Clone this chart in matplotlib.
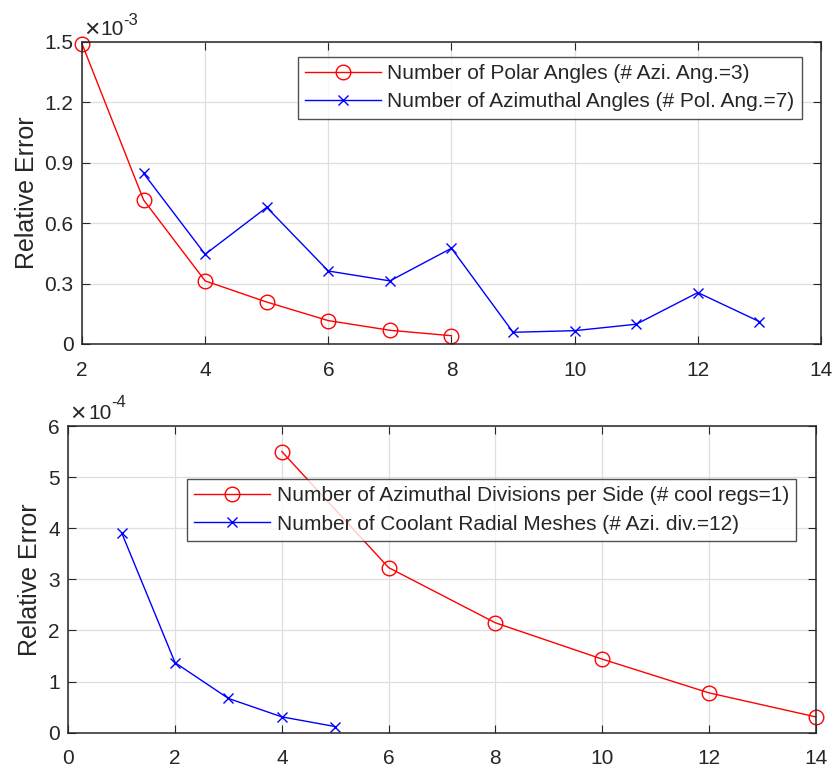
import matplotlib
matplotlib.use("Agg")
import matplotlib.pyplot as plt
from matplotlib.ticker import FuncFormatter, MultipleLocator

plt.rcParams['font.family'] = ['Liberation Sans', 'DejaVu Sans']

# Angular quadrature study
polar_n = [2, 3, 4, 5, 6, 7, 8]
polar_err = [1.49e-3, 0.715e-3, 0.313e-3, 0.208e-3, 0.116e-3, 0.068e-3, 0.041e-3]
azi_n = [3, 4, 5, 6, 7, 8, 9, 10, 11, 12, 13]
azi_err = [0.847e-3, 0.445e-3, 0.678e-3, 0.362e-3, 0.313e-3, 0.475e-3,
           0.058e-3, 0.066e-3, 0.098e-3, 0.255e-3, 0.111e-3]

# Spatial mesh study
div_n = [4, 6, 8, 10, 12, 14]
div_err = [5.50e-4, 3.23e-4, 2.15e-4, 1.44e-4, 0.78e-4, 0.31e-4]
cool_n = [1, 2, 3, 4, 5]
cool_err = [3.91e-4, 1.37e-4, 0.67e-4, 0.31e-4, 0.12e-4]

top_labels = ['Number of Polar Angles (# Azi. Ang.=3)',
              'Number of Azimuthal Angles (# Pol. Ang.=7)']
bot_labels = ['Number of Azimuthal Divisions per Side (# cool regs=1)',
              'Number of Coolant Radial Meshes (# Azi. div.=12)']

RED = '#ff0000'
BLUE = '#0000ff'
INK = '#262626'
FS = 15
W, H = 833, 769

fig = plt.figure(figsize=(W / 100, H / 100), dpi=100)
ax1 = fig.add_axes([0.0984, 0.5527, 0.8872, 0.3931])
ax2 = fig.add_axes([0.0820, 0.0472, 0.8972, 0.3988])


def exponent_label(x_times, x_ten, base_y, x_sup, sup_y, exp):
    """Draw the '×10^-n' multiplier above an axes (pixel positions from top-left)."""
    fig.text(x_times / W, 1 - (base_y - 5) / H, '\u00d7', fontsize=19,
             color=INK, ha='left', va='center')
    fig.text(x_ten / W, 1 - base_y / H, '10', fontsize=FS, color=INK,
             ha='left', va='baseline')
    fig.text(x_sup / W, 1 - sup_y / H, f'-{exp}', fontsize=12, color=INK,
             ha='left', va='baseline')


def style(ax, scale):
    ax.grid(True, color='#dfdfdf', linewidth=0.9)
    ax.set_axisbelow(True)
    for s in ax.spines.values():
        s.set_color(INK)
        s.set_linewidth(1.1)
    ax.tick_params(direction='in', top=True, right=True, length=6, width=0.8,
                   colors=INK, labelsize=FS)
    ax.tick_params(axis='x', pad=12)
    ax.tick_params(axis='y', pad=6)
    ax.yaxis.set_major_formatter(FuncFormatter(lambda v, p: f'{v * scale:g}'))
    ax.set_ylabel('Relative Error', fontsize=18, color=INK)


def add_legend(ax, anchor):
    leg = ax.legend(loc='upper right', bbox_to_anchor=anchor,
                    borderaxespad=0, fontsize=FS, frameon=True, fancybox=False,
                    edgecolor=INK, handlelength=3.65, borderpad=0.35,
                    labelspacing=0.45, handletextpad=0.3)
    leg.get_frame().set_linewidth(1.0)
    for t in leg.get_texts():
        t.set_color(INK)


# Top panel
ax1.plot(polar_n, polar_err, color=RED, lw=1.0, marker='o', ms=10.5,
         mfc='none', mec=RED, mew=1.0, label=top_labels[0], clip_on=False)
ax1.plot(azi_n, azi_err, color=BLUE, lw=1.0, marker='x', ms=7.5,
         mec=BLUE, mew=1.0, label=top_labels[1])
ax1.set_xlim(2, 14)
ax1.set_ylim(0, 1.5e-3)
ax1.xaxis.set_major_locator(MultipleLocator(2))
ax1.yaxis.set_major_locator(MultipleLocator(0.3e-3))
style(ax1, 1e3)
ax1.yaxis.set_label_coords(-0.058, 0.5)
add_legend(ax1, (0.974, 0.950))
exponent_label(84, 100, 35, 123, 25, 3)

# Bottom panel
ax2.plot(div_n, div_err, color=RED, lw=1.0, marker='o', ms=10.5,
         mfc='none', mec=RED, mew=1.0, label=bot_labels[0], clip_on=False)
ax2.plot(cool_n, cool_err, color=BLUE, lw=1.0, marker='x', ms=7.5,
         mec=BLUE, mew=1.0, label=bot_labels[1])
ax2.set_xlim(0, 14)
ax2.set_ylim(0, 6e-4)
ax2.xaxis.set_major_locator(MultipleLocator(2))
ax2.yaxis.set_major_locator(MultipleLocator(1e-4))
style(ax2, 1e4)
ax2.yaxis.set_label_coords(-0.035, 0.5)
add_legend(ax2, (0.974, 0.827))
exponent_label(70.5, 88, 419.3, 111.7, 407, 4)

fig.savefig('out.png', dpi=100, facecolor='white')
